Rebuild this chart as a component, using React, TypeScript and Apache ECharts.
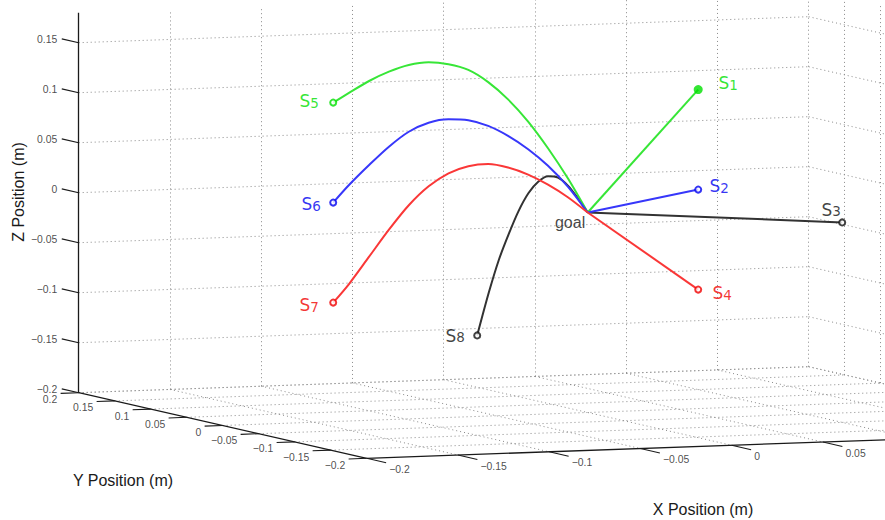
import React, { useEffect, useRef } from "react";
import * as echarts from "echarts";

// ---- axis ticks / limits (data units, metres) ----
const X_TICKS = [-0.2, -0.15, -0.1, -0.05, 0, 0.05, 0.1, 0.15, 0.2];
const Y_TICKS = [0.2, 0.15, 0.1, 0.05, 0, -0.05, -0.1, -0.15, -0.2];
const Z_TICKS = [-0.2, -0.15, -0.1, -0.05, 0, 0.05, 0.1, 0.15];
const X_LIM = [-0.2, 0.2];
const Y_LIM = [-0.2, 0.2];
const Z_LIM = [-0.2, 0.18];

// ---- goal and start points ----
const GOAL = [0, 0, 0];
const S1 = [0.1, 0.1, 0.1];
const S2 = [0.1, 0.1, 0];
const S3 = [0.1, -0.1, 0];
const S4 = [0.1, 0.1, -0.1];

// ---- curved trajectories (x, y, z) ----
const ARC_X = [-0.1, -0.0938, -0.0859, -0.0781, -0.0703, -0.0625, -0.0547, -0.0469, -0.0391, -0.0313, -0.0234, -0.0156, -0.0078, 0];
const ARC_Y = [0.1, 0.0938, 0.0859, 0.0781, 0.0703, 0.0625, 0.0547, 0.0469, 0.0391, 0.0313, 0.0234, 0.0156, 0.0078, 0];

const S5_Z = [0.1, 0.1103, 0.123, 0.1331, 0.1405, 0.144, 0.1428, 0.1379, 0.1265, 0.11, 0.0886, 0.0627, 0.0334, 0];
const S6_Z = [0, 0.0182, 0.039, 0.0581, 0.0738, 0.0836, 0.0878, 0.0876, 0.0828, 0.0736, 0.061, 0.0452, 0.0251, 0];
const S7_Z = [-0.1, -0.0808, -0.0527, -0.0249, 0.0003, 0.02, 0.0338, 0.0417, 0.0446, 0.0419, 0.0356, 0.0263, 0.0145, 0];

const S8_X = [-0.1, -0.0895, -0.0806, -0.0716, -0.0627, -0.0537, -0.0448, -0.0358, -0.0269, -0.0179, -0.009, 0];
const S8_Y = [-0.1, -0.0895, -0.0806, -0.0716, -0.0627, -0.0537, -0.0448, -0.0358, -0.0269, -0.0179, -0.009, 0];
const S8_Z = [-0.1, -0.0596, -0.0295, -0.0055, 0.0155, 0.0315, 0.041, 0.0444, 0.041, 0.031, 0.0165, 0];

// ---- view (orthographic camera) ----
const ORIGIN = [78.7, 392.7]; // pixel of corner (xmin, ymax, zmin)
const EX = [1825, -65];
const EY = [-720, -164];
const EZ = [0, -1000];

const proj = (x: number, y: number, z: number): [number, number] => {
  const dx = x - X_LIM[0];
  const dy = y - Y_LIM[1];
  const dz = z - Z_LIM[0];
  return [
    ORIGIN[0] + dx * EX[0] + dy * EY[0] + dz * EZ[0],
    ORIGIN[1] + dx * EX[1] + dy * EY[1] + dz * EZ[1],
  ];
};

const fmt = (v: number) => {
  const r = Math.round(v * 1000) / 1000;
  if (r === 0) return "0";
  return (r < 0 ? "\u2212" : "") + String(Math.abs(r));
};

const GREEN = "#00e000";
const BLUE = "#0000f0";
const RED = "#f00000";
const BLACK = "#111111";
const LGREEN = "rgb(55,230,55)";
const LBLUE = "rgb(55,55,250)";
const LRED = "rgb(250,55,55)";
const LBLACK = "rgb(50,50,50)";
const FONT = "Liberation Sans";

function buildOption() {
  const [xmin, xmax] = X_LIM;
  const [ymin, ymax] = Y_LIM;
  const [zmin, zmax] = Z_LIM;

  const gridSegs: [number, number][][] = [];
  // back wall y = ymax
  X_TICKS.filter((x) => x > xmin).forEach((x) => gridSegs.push([proj(x, ymax, zmin), proj(x, ymax, zmax)]));
  Z_TICKS.forEach((z) => gridSegs.push([proj(xmin, ymax, z), proj(xmax, ymax, z)]));
  // side wall x = xmax
  Y_TICKS.filter((y) => y < ymax).forEach((y) => gridSegs.push([proj(xmax, y, zmin), proj(xmax, y, zmax)]));
  Z_TICKS.forEach((z) => gridSegs.push([proj(xmax, ymax, z), proj(xmax, ymin, z)]));
  // floor z = zmin
  X_TICKS.filter((x) => x > xmin).forEach((x) => gridSegs.push([proj(x, ymax, zmin), proj(x, ymin, zmin)]));
  Y_TICKS.filter((y) => y > ymin).forEach((y) => gridSegs.push([proj(xmin, y, zmin), proj(xmax, y, zmin)]));

  const axisSegs: [number, number][][] = [
    [proj(xmin, ymax, zmin), proj(xmin, ymax, zmax)],
    [proj(xmin, ymax, zmin), proj(xmin, ymin, zmin)],
    [proj(xmin, ymin, zmin), proj(xmax, ymin, zmin)],
  ];
  const tickSegs: [number, number][][] = [];
  Z_TICKS.forEach((z) => tickSegs.push([proj(xmin, ymax, z), proj(xmin, ymax + 0.0235, z)]));
  Y_TICKS.forEach((y) => tickSegs.push([proj(xmin, y, zmin), proj(xmin - 0.0099, y, zmin)]));
  X_TICKS.forEach((x) => tickSegs.push([proj(x, ymin, zmin), proj(x, ymin - 0.027, zmin)]));

  const tickLabelStyle = { fontFamily: FONT, fontSize: 10.4, color: "#1a1a1a" };
  const tickLabelSeries = (pts: number[][], label: any) => ({
    type: "scatter",
    silent: true,
    symbolSize: 1,
    itemStyle: { color: "transparent" },
    data: pts,
    label: { show: true, ...tickLabelStyle, formatter: (p: any) => fmt(p.value[2]), ...label },
    z: 3,
  });

  const segSeries = (segs: [number, number][][], lineStyle: any, z: number) => ({
    type: "lines",
    coordinateSystem: "cartesian2d",
    silent: true,
    data: segs.map((s) => ({ coords: s })),
    lineStyle: { opacity: 1, ...lineStyle },
    z,
  });

  const curve = (X: number[], Y: number[], Z: number[], color: string, z: number) => ({
    type: "line",
    data: X.map((x, i) => proj(x, Y[i], Z[i])),
    smooth: 0.3,
    showSymbol: false,
    silent: true,
    lineStyle: { color, width: 2 },
    z,
  });

  const straight = (P: number[], color: string, z: number) => ({
    type: "line",
    data: [proj(P[0], P[1], P[2]), proj(GOAL[0], GOAL[1], GOAL[2])],
    showSymbol: false,
    silent: true,
    lineStyle: { color, width: 2 },
    z,
  });

  const startMarker = (P: number[], name: string, num: string, color: string, offset: number[], filled: boolean) => ({
    type: "scatter",
    silent: true,
    data: [proj(P[0], P[1], P[2])],
    symbol: "circle",
    symbolSize: filled ? 9 : 6,
    itemStyle: filled
      ? { color }
      : { color: "#ffffff", borderColor: color, borderWidth: 2 },
    label: {
      show: true,
      position: "inside",
      offset,
      formatter: `{s|${name}}{n|${num}}`,
      rich: {
        s: { fontFamily: "DejaVu Sans", fontSize: 17, color, lineHeight: 20, verticalAlign: "bottom" },
        n: { fontFamily: "DejaVu Sans", fontSize: 13.5, color, lineHeight: 20, verticalAlign: "bottom" },
      },
    },
    z: 10,
  });

  const S5 = [ARC_X[0], ARC_Y[0], S5_Z[0]];
  const S6 = [ARC_X[0], ARC_Y[0], S6_Z[0]];
  const S7 = [ARC_X[0], ARC_Y[0], S7_Z[0]];
  const S8 = [S8_X[0], S8_Y[0], S8_Z[0]];

  return {
    animation: false,
    backgroundColor: "#ffffff",
    grid: { left: 0, right: 0, top: 0, bottom: 0, containLabel: false },
    xAxis: { type: "value", min: 0, max: 885, show: false },
    yAxis: { type: "value", min: 0, max: 520, inverse: true, show: false },
    graphic: [
      {
        type: "text",
        x: 18,
        y: 192,
        rotation: Math.PI / 2,
        style: { text: "Z Position (m)", font: `16px "${FONT}"`, fill: "#1a1a1a", align: "center", verticalAlign: "middle" },
      },
      {
        type: "text",
        x: 123,
        y: 480,
        style: { text: "Y Position (m)", font: `16px "${FONT}"`, fill: "#1a1a1a", align: "center", verticalAlign: "middle" },
      },
      {
        type: "text",
        x: 703,
        y: 509,
        style: { text: "X Position (m)", font: `16px "${FONT}"`, fill: "#1a1a1a", align: "center", verticalAlign: "middle" },
      },
    ],
    series: [
      segSeries(gridSegs, { color: "#8a8a8a", width: 1, type: [1, 3] }, 1),
      segSeries(axisSegs, { color: "#1a1a1a", width: 1.3 }, 2),
      segSeries(tickSegs, { color: "#1a1a1a", width: 1.1 }, 2),
      tickLabelSeries(
        Z_TICKS.map((z) => [...proj(X_LIM[0], Y_LIM[1], z), z]),
        { position: "left", distance: 21, offset: [0, -3.7] }
      ),
      tickLabelSeries(
        Y_TICKS.map((y) => [...proj(X_LIM[0], y, Z_LIM[0]), y]),
        { position: "left", distance: 21, offset: [0, 7] }
      ),
      tickLabelSeries(
        X_TICKS.map((x) => [...proj(x, Y_LIM[0], Z_LIM[0]), x]),
        { position: "right", distance: 22, offset: [0, 11] }
      ),
      straight(S3, LBLACK, 4),
      curve(S8_X, S8_Y, S8_Z, LBLACK, 4),
      straight(S1, LGREEN, 5),
      curve(ARC_X, ARC_Y, S5_Z, LGREEN, 5),
      straight(S2, LBLUE, 6),
      curve(ARC_X, ARC_Y, S6_Z, LBLUE, 6),
      straight(S4, LRED, 7),
      curve(ARC_X, ARC_Y, S7_Z, LRED, 7),
      startMarker(S1, "S", "1", GREEN, [30, -8], true),
      startMarker(S2, "S", "2", BLUE, [21, -5], false),
      startMarker(S3, "S", "3", BLACK, [-11, -14], false),
      startMarker(S4, "S", "4", RED, [24, 2], false),
      startMarker(S5, "S", "5", GREEN, [-24, -3], false),
      startMarker(S6, "S", "6", BLUE, [-22, 0], false),
      startMarker(S7, "S", "7", RED, [-24, 1], false),
      startMarker(S8, "S", "8", BLACK, [-22, -1], false),
      {
        type: "scatter",
        silent: true,
        data: [[...proj(GOAL[0], GOAL[1], GOAL[2]), 0]],
        symbolSize: 1,
        itemStyle: { color: "transparent" },
        label: {
          show: true,
          position: "left",
          distance: 2,
          offset: [0, 9.5],
          formatter: "goal",
          fontFamily: FONT,
          fontSize: 16,
          color: "#111111",
        },
        z: 11,
      },
    ],
  };
}

export default function App() {
  const ref = useRef<HTMLDivElement>(null);
  useEffect(() => {
    if (!ref.current) return;
    const chart = echarts.init(ref.current, null, { renderer: "svg" });
    chart.setOption(buildOption() as any);
    return () => chart.dispose();
  }, []);
  return (
    <div
      ref={ref}
      style={{ position: "absolute", left: 0, top: 0, width: 885, height: 520, background: "#fff" }}
    />
  );
}
